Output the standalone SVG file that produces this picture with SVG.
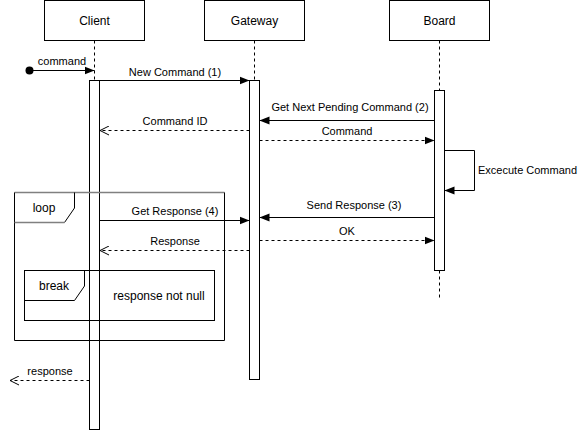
<svg xmlns="http://www.w3.org/2000/svg" width="578" height="431" viewBox="0 0 578 431">
<style>
text{font-family:"Liberation Sans",Arial,sans-serif;fill:#000}
.box{fill:#fff;stroke:#000;stroke-width:1}
.life{stroke:#000;stroke-width:1;stroke-dasharray:3 3;fill:none}
.act{fill:#fff;stroke:#000;stroke-width:1}
.msg{stroke:#000;stroke-width:1;fill:none}
.ret{stroke:#000;stroke-width:1;fill:none;stroke-dasharray:3 3}
.frame{fill:none;stroke:#000;stroke-width:1}
.t12{font-size:12px}
.t11{font-size:11px}
</style>
<defs>
<marker id="fill" viewBox="0 0 10 10" refX="10" refY="5" markerWidth="10" markerHeight="10" markerUnits="userSpaceOnUse" orient="auto">
<path d="M0,1 L10,5 L0,9 Z" fill="#000"/>
</marker>
<marker id="open" viewBox="0 0 10 10" refX="9" refY="5" markerWidth="10" markerHeight="10" markerUnits="userSpaceOnUse" orient="auto">
<path d="M0,0.5 L9,5 L0,9.5" fill="none" stroke="#000" stroke-width="1"/>
</marker>
</defs>
<g id="client">
<rect class="box" x="44.5" y="0.5" width="100" height="40"/>
<text class="t12" x="94.5" y="24.5" text-anchor="middle">Client</text>
<line class="life" x1="94.5" y1="40.5" x2="94.5" y2="80"/>
<rect class="act" x="89.5" y="80.5" width="10" height="349"/>
</g>
<g id="gateway">
<rect class="box" x="204.5" y="0.5" width="100" height="40"/>
<text class="t12" x="254.5" y="24.5" text-anchor="middle">Gateway</text>
<line class="life" x1="254.5" y1="40.5" x2="254.5" y2="80"/>
<rect class="act" x="249.5" y="80.5" width="10" height="299"/>
</g>
<g id="board">
<rect class="box" x="389.5" y="0.5" width="100" height="40"/>
<text class="t12" x="439.5" y="24.5" text-anchor="middle">Board</text>
<line class="life" x1="439.5" y1="40.5" x2="439.5" y2="90"/>
<line class="life" x1="439.5" y1="270.5" x2="439.5" y2="300"/>
<rect class="act" x="434.5" y="90.5" width="10" height="180"/>
</g>
<g id="loop">
<line x1="14.5" y1="192.5" x2="224.5" y2="192.5" stroke="#808080" stroke-width="1.3"/>
<path class="frame" d="M14.5,192.5 V340.5 H224.5 V192.5"/>
<path d="M74.5,192.5 V208 L64.5,222.5" fill="none" stroke="#000"/>
<line x1="14.5" y1="222.5" x2="64.5" y2="222.5" stroke="#808080" stroke-width="1.3"/>
<text class="t12" x="44" y="212" text-anchor="middle">loop</text>
</g>
<g id="break">
<rect class="frame" x="24.5" y="270.5" width="190" height="50"/>
<path class="frame" d="M84.5,270.5 V286 L74.5,300.5 H24.5"/>
<text class="t12" x="54" y="290" text-anchor="middle">break</text>
<text class="t12" x="159" y="300" text-anchor="middle">response not null</text>
</g>
<g id="connectors">
<circle cx="29.5" cy="70.5" r="4" fill="#000"/>
<line class="msg" x1="29.5" y1="70.5" x2="94.5" y2="70.5" marker-end="url(#fill)"/>
<text class="t11" x="62" y="65" text-anchor="middle">command</text>

<line class="msg" x1="99.5" y1="80.5" x2="249.5" y2="80.5" marker-end="url(#fill)"/>
<text class="t11" x="175" y="76" text-anchor="middle">New Command (1)</text>

<line class="msg" x1="434.5" y1="120.5" x2="259.5" y2="120.5" marker-end="url(#fill)"/>
<text class="t11" x="350" y="111" text-anchor="middle">Get Next Pending Command (2)</text>

<line class="ret" x1="249.5" y1="130.5" x2="100" y2="130.5" marker-end="url(#open)"/>
<text class="t11" x="175" y="125" text-anchor="middle">Command ID</text>

<line class="ret" x1="259.5" y1="140.5" x2="434.5" y2="140.5" marker-end="url(#fill)"/>
<text class="t11" x="347" y="135" text-anchor="middle">Command</text>

<path class="msg" d="M444.5,150.5 H474.5 V190.5 H444.5" marker-end="url(#fill)"/>
<text class="t11" x="478" y="174">Excecute Command</text>

<line class="msg" x1="434.5" y1="217.5" x2="259.5" y2="217.5" marker-end="url(#fill)"/>
<text class="t11" x="354" y="209" text-anchor="middle">Send Response (3)</text>

<line class="msg" x1="99.5" y1="220.5" x2="249.5" y2="220.5" marker-end="url(#fill)"/>
<text class="t11" x="175" y="215" text-anchor="middle">Get Response (4)</text>

<line class="ret" x1="259.5" y1="240.5" x2="434.5" y2="240.5" marker-end="url(#fill)"/>
<text class="t11" x="347" y="235" text-anchor="middle">OK</text>

<line class="ret" x1="249.5" y1="250.5" x2="100" y2="250.5" marker-end="url(#open)"/>
<text class="t11" x="175" y="245" text-anchor="middle">Response</text>

<line class="ret" x1="89.5" y1="380.5" x2="10" y2="380.5" marker-end="url(#open)"/>
<text class="t11" x="50" y="375" text-anchor="middle">response</text>
</g>
</svg>
